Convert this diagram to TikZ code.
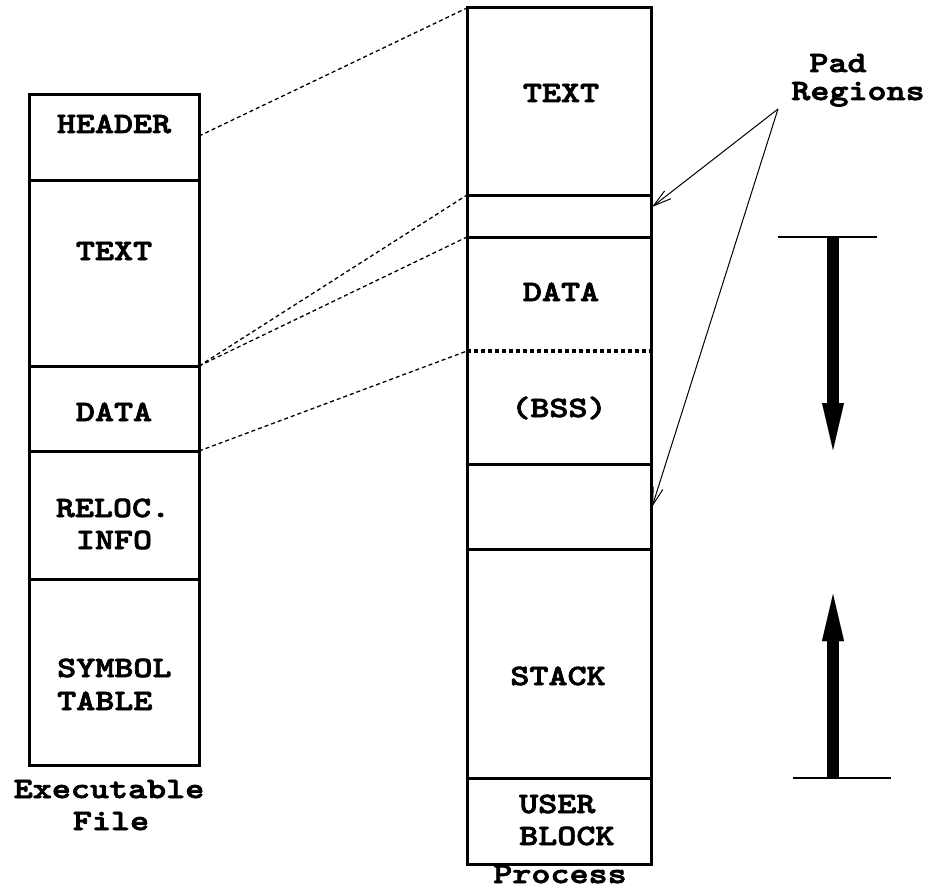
\documentclass[tikz,border=0pt]{standalone}
\usepackage{fontspec}
\newfontfamily\slabmono{lmmonolt10-bold.otf}[FakeStretch=1.23,FakeBold=2.5]
\usetikzlibrary{arrows.meta}

\begin{document}
\begin{tikzpicture}[x=1pt,y=-1pt,
  box/.style={line width=3pt},
  bssline/.style={line width=4pt, dash pattern=on 4pt off 3pt},
  lbl/.style={font=\fontsize{29.5}{34}\selectfont\slabmono, inner sep=0pt, anchor=base},
  lblw/.style={lbl, anchor=base west},
  map/.style={line width=1.3pt, dash pattern=on 4pt off 3pt},
  pointer/.style={line width=1pt, -{Straight Barb[length=18pt,width=10pt]}},
  growth/.style={line width=12.5pt, -{Triangle[length=47pt,width=22pt,line width=0.01pt]}},
  bound/.style={line width=1.5pt}]
\useasboundingbox (0,0) rectangle (929,888);

% ---- executable file layout ----
\draw[box] (29,95) rectangle (199,765);
\foreach \y in {180,366,451,579} \draw[box] (29,\y) -- (199,\y);
\node[lbl] (fhdr)   at (114,133) {HEADER};
\node[lbl] (ftext)  at (114,260) {TEXT};
\node[lbl] (fdata)  at (114,421) {DATA};
\node[lbl] (freloc) at (113,517) {RELOC.};
\node[lbl] (finfo)  at (114,549) {INFO};
\node[lblw] (fsym)  at (57,677) {SYMBOL};
\node[lblw] (ftab)  at (57,710) {TABLE};
\node[lbl] (fcap1)  at (109,798) {Executable};
\node[lbl] (fcap2)  at (111,830) {File};

% ---- process image layout ----
\draw[box] (467,8) rectangle (651,864);
\foreach \y in {195,237,464,549,778} \draw[box] (467,\y) -- (651,\y);
\draw[bssline] (467,351) -- (651,351);
\node[lbl] (ptext)  at (561,102) {TEXT};
\node[lbl] (pdata)  at (561,301) {DATA};
\node[lbl] (pbss)   at (559,417) {(BSS)};
\node[lbl] (pstack) at (558,685) {STACK};
\node[lblw] (puser) at (519,813) {USER};
\node[lblw] (pblock) at (519,845) {BLOCK};
\node[lbl] (pcap)   at (560,883) {Process};

% ---- section mapping ----
\coordinate (hdrE)    at (199,136);
\coordinate (textE)   at (199,366);
\coordinate (dataE)   at (199,451);
\coordinate (procTop) at (467,8);
\coordinate (pad1Top) at (467,195);
\coordinate (dataTop) at (467,237);
\coordinate (bssTop)  at (467,351);
\draw[map] (hdrE) -- (procTop);
\draw[map] (textE) -- (pad1Top);
\draw[map] (textE) -- (dataTop);
\draw[map] (dataE) -- (bssTop);

% ---- pad regions ----
\node[lbl] (pad)     at (838,72)  {Pad};
\node[lbl] (regions) at (858,100) {Regions};
\coordinate (padsrc) at (778,109);
\coordinate (pad1E)  at (652,207);
\coordinate (pad2E)  at (652,507);
\draw[pointer] (padsrc) -- (pad1E);
\draw[pointer] (padsrc) -- (pad2E);

% ---- growth directions ----
\coordinate (dl) at (778,237);
\coordinate (dr) at (877,237);
\coordinate (ds) at (833,237);
\coordinate (dt) at (833,450);
\coordinate (ul) at (793,778);
\coordinate (ur) at (891,778);
\coordinate (us) at (833,778);
\coordinate (ut) at (833,594);
\draw[bound] (dl) -- (dr);
\draw[bound] (ul) -- (ur);
\draw[growth] (ds) -- (dt);
\draw[growth] (us) -- (ut);
\end{tikzpicture}
\end{document}
